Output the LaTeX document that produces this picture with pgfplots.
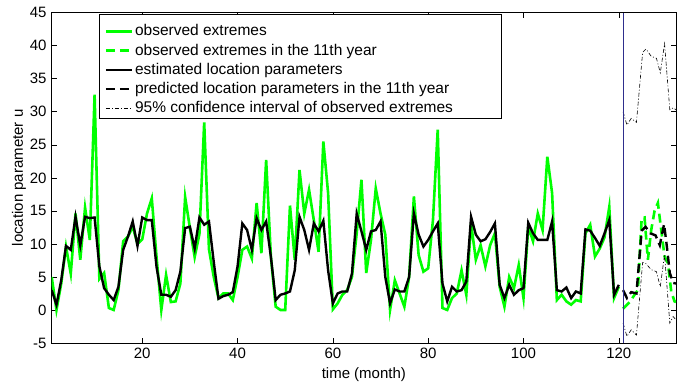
\documentclass[border=0pt]{standalone}
\usepackage{fontspec}
\setmainfont{Liberation Sans}
\usepackage{pgfplots}
\pgfplotsset{compat=1.18}
\usepackage{pgfplotstable}
\definecolor{mgreen}{rgb}{0,1,0}
\definecolor{navyline}{rgb}{0.18,0.18,0.55}

\pgfplotstableread{
m obs est
1 5.0 3.0
2 0.0 0.8
3 4.0 4.5
4 9.6 9.7
5 5.5 9.1
6 14.6 14.1
7 7.6 9.8
8 15.5 14.1
9 10.6 13.9
10 32.6 14.0
11 4.7 6.6
12 5.6 3.3
13 0.3 2.3
14 0.0 1.5
15 3.0 3.5
16 10.4 9.1
17 11.1 11.1
18 12.6 13.4
19 10.0 9.7
20 10.7 14.0
21 14.6 13.6
22 16.9 13.6
23 8.0 6.5
24 0.0 2.3
25 5.3 2.3
26 1.2 2.0
27 1.3 3.0
28 4.0 5.8
29 17.1 12.4
30 12.4 12.6
31 8.0 9.3
32 11.5 14.0
33 28.4 12.9
34 9.2 13.4
35 5.0 7.3
36 1.8 1.7
37 2.5 2.1
38 2.5 2.3
39 1.5 2.7
40 5.0 6.6
41 9.1 13.1
42 9.6 12.1
43 7.8 9.1
44 16.2 13.9
45 8.6 12.1
46 22.7 13.4
47 8.0 8.0
48 0.5 1.5
49 0.0 2.3
50 0.0 2.5
51 15.8 2.8
52 7.6 6.0
53 21.2 14.1
54 14.6 12.1
55 18.2 9.1
56 13.6 13.1
57 8.8 11.9
58 25.5 13.5
59 17.7 6.0
60 0.1 1.0
61 1.0 2.5
62 2.3 2.8
63 3.0 2.8
64 5.0 5.5
65 11.6 14.6
66 19.7 11.9
67 5.6 9.1
68 10.6 11.9
69 18.4 12.1
70 14.6 13.4
71 11.4 5.0
72 0.0 1.0
73 4.5 3.1
74 2.5 2.8
75 0.5 2.8
76 5.0 5.0
77 17.2 14.6
78 8.3 11.4
79 5.8 9.6
80 6.3 10.6
81 13.6 11.9
82 27.3 13.1
83 0.3 4.0
84 0.0 1.3
85 1.8 3.5
86 2.5 2.8
87 6.0 3.0
88 2.3 4.3
89 13.1 14.1
90 7.6 11.4
91 9.8 10.4
92 6.6 10.7
93 9.8 11.8
94 11.6 13.1
95 3.5 3.8
96 0.5 1.8
97 5.0 3.8
98 3.3 2.3
99 6.8 3.0
100 1.8 3.3
101 12.6 13.2
102 10.4 11.6
103 14.6 10.6
104 12.1 10.6
105 23.2 10.6
106 17.7 13.4
107 1.5 3.0
108 2.3 2.8
109 1.3 3.4
110 0.8 1.8
111 1.5 2.8
112 1.3 2.5
113 11.6 12.2
114 12.9 12.0
115 8.1 10.9
116 9.3 9.7
117 11.0 11.6
118 15.6 13.6
119 1.8 2.3
120 3.5 3.8
}\hist

\pgfplotstableread{
m v
120.9 0.2
122.3 1.2
123.3 2.3
124.0 3.0
124.8 13.9
125.4 14.0
126.1 7.6
126.8 12.1
127.5 15.0
128.2 16.2
128.9 12.1
129.6 8.1
130.3 7.1
131.0 2.8
131.7 1.3
132.0 1.2
}\obsfut

\pgfplotstableread{
m v
120.9 3.0
121.7 1.8
122.6 2.7
123.7 2.5
124.8 12.0
125.6 12.6
126.6 11.6
127.7 11.3
128.6 9.8
129.5 13.0
130.1 9.5
130.7 5.6
131.4 4.1
132.0 4.0
}\predfut

\pgfplotstableread{
m up lo
120.9 30.0 -2.0
121.7 28.0 -4.0
122.6 29.0 -3.0
123.7 28.4 -3.8
125.0 39.0 7.2
125.7 39.5 7.0
126.8 38.4 6.1
127.9 38.1 5.8
128.7 35.9 3.5
129.6 40.3 8.4
130.7 30.3 -2.0
131.4 30.6 -1.0
132.0 30.3 -1.5
}\cifut

\begin{document}
\fontsize{15}{18}\selectfont
\begin{tikzpicture}
\begin{axis}[name=ax, at={(0pt,0pt)}, anchor=south west,
  scale only axis, width=624.3pt, height=330.3pt,
  xmin=1, xmax=132, ymin=-5, ymax=45,
  xtick={20,40,...,120}, ytick={-5,0,...,45},
  tick align=inside, major tick length=5pt,
  tick style={black, line width=0.6pt},
  axis line style={line width=0.9pt},
  /pgf/number format/assume math mode=true,
  ticklabel style={font=\fontsize{15}{18}\selectfont},
  label style={font=\fontsize{15}{18}\selectfont},
  xlabel={time (month)}, ylabel={location parameter u},
  xlabel style={at={(axis description cs:0.5,-0.097)}, anchor=center},
  ylabel style={at={(axis description cs:-0.0524,0.5)}, anchor=center},
  legend cell align=left,
  legend image code/.code={\draw[#1] (0pt,0pt) -- (26pt,0pt);},
  legend style={at={(axis description cs:0.0762,0.988)}, anchor=north west,
    draw=none, fill=none,
    font=\fontsize{15.5}{18}\selectfont,
    inner xsep=5pt, inner ysep=5pt, row sep=0pt,
    nodes={inner xsep=2pt, inner ysep=2.85pt}},
]
\draw[line width=0.8pt, fill=white] (axis description cs:0.0762,0.6812) rectangle (axis description cs:0.7197,0.996);
\addplot[mgreen, line width=2.6pt] table[x=m, y=obs] {\hist};
\addlegendentry{observed extremes}
\addplot[mgreen, line width=2.6pt, dash pattern=on 9pt off 5pt] table[x=m, y=v] {\obsfut};
\addlegendentry{observed extremes in the 11th year}
\addplot[black, line width=2.4pt] table[x=m, y=est] {\hist};
\addlegendentry{estimated location parameters}
\addplot[black, line width=2.4pt, dash pattern=on 9pt off 5pt] table[x=m, y=v] {\predfut};
\addlegendentry{predicted location parameters in the 11th year}
\addplot[black, line width=0.6pt, dash pattern=on 4pt off 2pt on 1pt off 2pt] table[x=m, y=up] {\cifut};
\addlegendentry{95\% confidence interval of observed extremes}
\addplot[black, line width=0.6pt, dash pattern=on 4pt off 2pt on 1pt off 2pt, forget plot] table[x=m, y=lo] {\cifut};
\addplot[navyline, line width=1pt, forget plot] coordinates {(121,-5) (121,45)};
\end{axis}
\pgfresetboundingbox
\path ([xshift=-51.7pt,yshift=-43pt]ax.south west) rectangle ([xshift=10pt,yshift=12.7pt]ax.north east);
\end{tikzpicture}
\end{document}
